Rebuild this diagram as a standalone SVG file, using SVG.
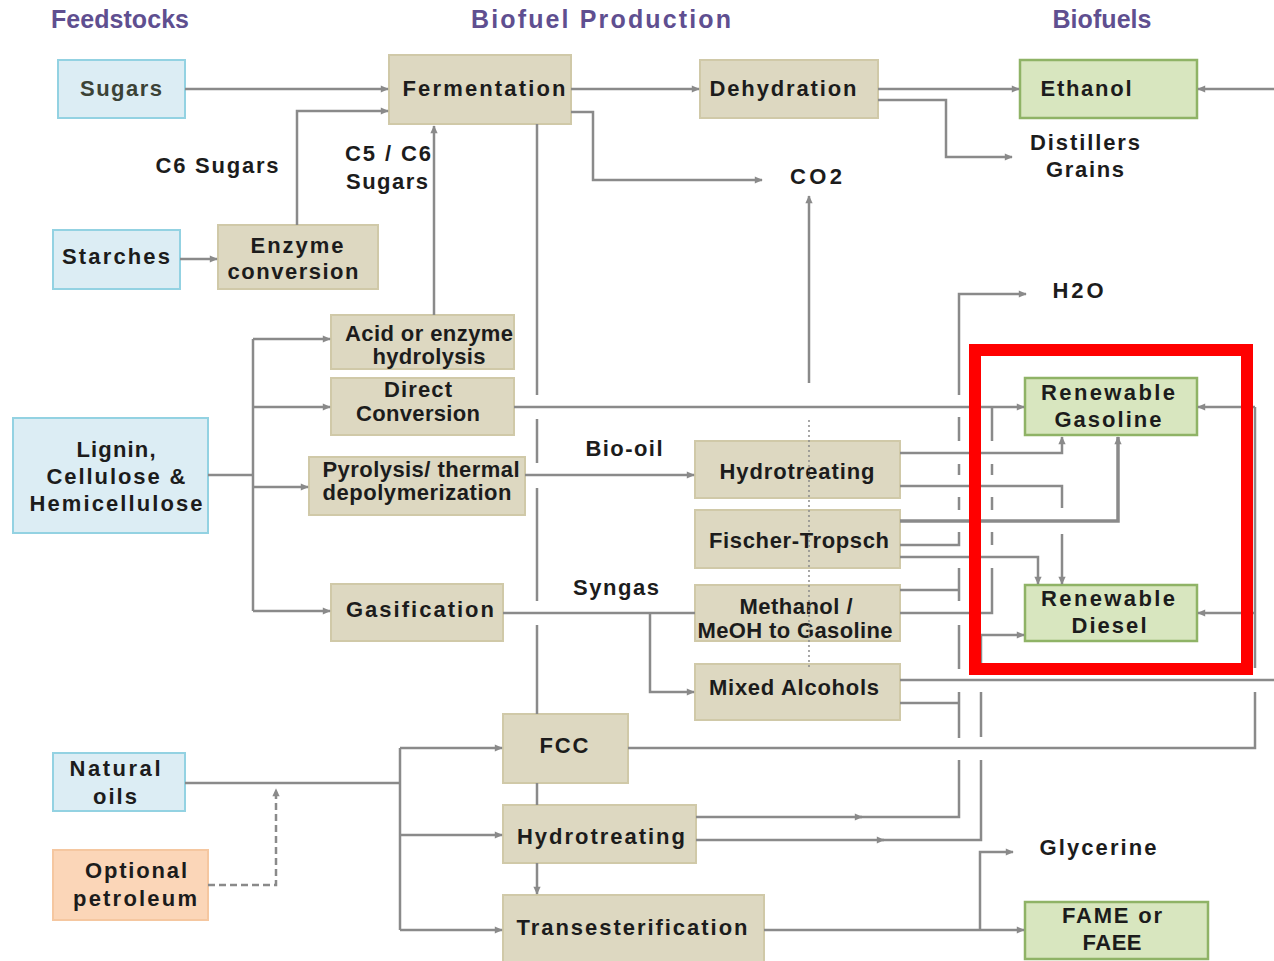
<svg xmlns="http://www.w3.org/2000/svg" width="1274" height="961" viewBox="0 0 1274 961">
<defs>
<marker id="ah" viewBox="0 0 10 10" refX="9" refY="5" markerWidth="9" markerHeight="8" markerUnits="userSpaceOnUse" orient="auto"><path d="M0,0.5 L10,5 L0,9.5 z" fill="#8a8a8a"/></marker>
</defs>
<style>
text{font-family:"Liberation Sans",Arial,sans-serif;font-weight:bold;text-anchor:middle}
.t{font-size:22px;fill:#1c1c1c}
.h{font-size:25px;fill:#5f4f90}
.c{fill:none;stroke:#8a8a8a;stroke-width:2.5}
.a{marker-end:url(#ah)}
.feed rect{fill:#dcedf4;stroke:#93d2e2;stroke-width:2}
.proc rect{fill:#ddd8c1;stroke:#d0c9a8;stroke-width:2}
.fuel rect{fill:#d8e6bf;stroke:#8fb366;stroke-width:2.5}
.opt rect{fill:#fbd6b8;stroke:#f5c7a0;stroke-width:2}
</style>
<rect width="1274" height="961" fill="#ffffff"/>

<g id="headers">
<text class="h" x="120" y="28" textLength="138">Feedstocks</text>
<text class="h" x="601" y="28" textLength="260">Biofuel Production</text>
<text class="h" x="1102" y="28" textLength="99">Biofuels</text>
</g>

<g id="labels">
<text class="t" x="217" y="173" textLength="123">C6 Sugars</text>
<text class="t" x="388" y="161" textLength="86">C5 / C6</text>
<text class="t" x="387" y="189" textLength="82">Sugars</text>
<text class="t" x="816" y="184" textLength="52">CO2</text>
<text class="t" x="1085" y="150" textLength="110">Distillers</text>
<text class="t" x="1085" y="177" textLength="78">Grains</text>
<text class="t" x="1078" y="298" textLength="51">H2O</text>
<text class="t" x="624" y="456" textLength="77">Bio-oil</text>
<text class="t" x="616" y="595" textLength="86">Syngas</text>
<text class="t" x="1098" y="855" textLength="117">Glycerine</text>
</g>

<g id="nodes">
<g id="sugars" class="feed"><rect x="58" y="60" width="127" height="58"/><text class="t" x="121" y="96" textLength="82" style="fill:#3b4236">Sugars</text></g>
<g id="starches" class="feed"><rect x="53" y="230" width="127" height="59"/><text class="t" x="116" y="264" textLength="108">Starches</text></g>
<g id="lignin" class="feed"><rect x="13" y="418" width="195" height="115"/><text class="t" x="116" y="457" textLength="79">Lignin,</text><text class="t" x="116" y="484" textLength="139">Cellulose &amp;</text><text class="t" x="116" y="511" textLength="173">Hemicellulose</text></g>
<g id="natural-oils" class="feed"><rect x="53" y="753" width="132" height="58"/><text class="t" x="115" y="776" textLength="91">Natural</text><text class="t" x="115" y="804" textLength="44">oils</text></g>
<g id="optional-petroleum" class="opt"><rect x="53" y="850" width="155" height="70"/><text class="t" x="136" y="878" textLength="102">Optional</text><text class="t" x="135" y="906" textLength="124">petroleum</text></g>

<g id="fermentation" class="proc"><rect x="389" y="55" width="182" height="69"/><text class="t" x="484" y="96" textLength="163">Fermentation</text></g>
<g id="dehydration" class="proc"><rect x="700" y="60" width="178" height="58"/><text class="t" x="783" y="96" textLength="147">Dehydration</text></g>
<g id="enzyme-conversion" class="proc"><rect x="218" y="225" width="160" height="64"/><text class="t" x="297" y="253" textLength="93">Enzyme</text><text class="t" x="293" y="279" textLength="131">conversion</text></g>
<g id="acid-hydrolysis" class="proc"><rect x="331" y="315" width="183" height="54"/><text class="t" x="429" y="341" textLength="168">Acid or enzyme</text><text class="t" x="429" y="364" textLength="113">hydrolysis</text></g>
<g id="direct-conversion" class="proc"><rect x="331" y="378" width="183" height="57"/><text class="t" x="418" y="397" textLength="68">Direct</text><text class="t" x="418" y="421" textLength="124">Conversion</text></g>
<g id="pyrolysis" class="proc"><rect x="309" y="457" width="216" height="58"/><text class="t" x="421" y="477" textLength="197">Pyrolysis/ thermal</text><text class="t" x="417" y="500" textLength="189">depolymerization</text></g>
<g id="gasification" class="proc"><rect x="331" y="584" width="172" height="57"/><text class="t" x="420" y="617" textLength="148">Gasification</text></g>
<g id="hydrotreating-1" class="proc"><rect x="695" y="441" width="205" height="57"/><text class="t" x="797" y="479" textLength="155">Hydrotreating</text></g>
<g id="fischer-tropsch" class="proc"><rect x="695" y="510" width="205" height="58"/><text class="t" x="799" y="548" textLength="180">Fischer-Tropsch</text></g>
<g id="methanol" class="proc"><rect x="695" y="585" width="205" height="56"/><text class="t" x="796" y="614" textLength="113">Methanol /</text><text class="t" x="795" y="638" textLength="195">MeOH to Gasoline</text></g>
<g id="mixed-alcohols" class="proc"><rect x="695" y="664" width="205" height="56"/><text class="t" x="794" y="695" textLength="170">Mixed Alcohols</text></g>
<g id="fcc" class="proc"><rect x="503" y="714" width="125" height="69"/><text class="t" x="564" y="753" textLength="49">FCC</text></g>
<g id="hydrotreating-2" class="proc"><rect x="503" y="805" width="193" height="58"/><text class="t" x="601" y="844" textLength="168">Hydrotreating</text></g>
<g id="transesterification" class="proc"><rect x="503" y="895" width="261" height="72"/><text class="t" x="632" y="935" textLength="231">Transesterification</text></g>

<g id="ethanol" class="fuel"><rect x="1020" y="60" width="177" height="58"/><text class="t" x="1086" y="96" textLength="91">Ethanol</text></g>
<g id="renewable-gasoline" class="fuel"><rect x="1025" y="378" width="172" height="57"/><text class="t" x="1108" y="400" textLength="134">Renewable</text><text class="t" x="1108" y="427" textLength="107">Gasoline</text></g>
<g id="renewable-diesel" class="fuel"><rect x="1025" y="585" width="172" height="56"/><text class="t" x="1108" y="606" textLength="134">Renewable</text><text class="t" x="1109" y="633" textLength="75">Diesel</text></g>
<g id="fame" class="fuel"><rect x="1025" y="902" width="183" height="57"/><text class="t" x="1112" y="923" textLength="100">FAME or</text><text class="t" x="1112" y="950" textLength="59">FAEE</text></g>
</g>

<g id="connectors">
<path class="c a" d="M185,89 H388"/>
<path class="c a" d="M297,225 V111 H388"/>
<path class="c a" d="M434,315 V126"/>
<path class="c a" d="M180,259 H217"/>
<path class="c" d="M208,475 H253 M253,339 V611"/>
<path class="c a" d="M253,339 H330"/>
<path class="c a" d="M253,407 H330"/>
<path class="c a" d="M253,487 H308"/>
<path class="c a" d="M253,611 H330"/>
<path class="c a" d="M571,89 H699"/>
<path class="c a" d="M571,112 H593 V180 H762"/>
<path class="c a" d="M878,89 H1019"/>
<path class="c a" d="M878,100 H946 V157 H1012"/>
<path class="c a" d="M1274,89 H1198"/>
<path class="c" d="M537,124 V395 M537,419 V463 M537,488 V601 M537,625 V714 M537,783 V805"/>
<path class="c a" d="M537,863 V894"/>
<path class="c a" d="M809,383 V196"/>
<path d="M809,420 V670" fill="none" stroke="#8a8a8a" stroke-width="1.5" stroke-dasharray="2,3"/>
<path class="c a" d="M514,407 H1024"/>
<path class="c a" d="M525,475 H694"/>
<path class="c" d="M503,613 H695"/>
<path class="c a" d="M650,613 V692 H694"/>
<path class="c a" d="M959,395 V294 H1026"/>
<path class="c" d="M959,417 V441 M959,464 V475 M959,497 V510 M959,532 V545 H900 M900,590 H959 M959,568 V601 M959,625 V669 M959,692 V738 M900,703 H959 M959,760 V817 H860"/>
<path class="c a" d="M696,817 H862"/>
<path class="c" d="M992,407 V441 M992,464 V475 M992,497 V510 M992,532 V545 M992,568 V613 H900"/>
<path class="c a" d="M900,453 H1062 V437"/>
<path class="c" d="M900,486 H1062 V508"/>
<path class="c a" d="M1062,534 V584"/>
<path class="c a" d="M900,521 H1118 V437" style="stroke-width:3.5"/>
<path class="c a" d="M900,557 H1038 V584"/>
<path class="c" d="M900,680 H1274"/>
<path class="c" d="M628,748 H1255 V692 M1255,668 V407"/>
<path class="c a" d="M1255,407 H1198"/>
<path class="c a" d="M1255,613 H1198"/>
<path class="c" d="M882,840 H981 V760 M981,737 V692 M981,669 V635"/>
<path class="c a" d="M696,840 H884"/>
<path class="c a" d="M981,635 H1024"/>
<path class="c" d="M185,783 H400 M400,748 V930"/>
<path class="c a" d="M400,748 H502"/>
<path class="c a" d="M400,835 H502"/>
<path class="c a" d="M400,930 H502"/>
<path class="c a" d="M208,885 H276 V789" stroke-dasharray="7,4"/>
<path class="c a" d="M764,930 H1024"/>
<path class="c a" d="M980,930 V852 H1013"/>
</g>

<rect id="highlight" x="975" y="350" width="272" height="319" fill="none" stroke="#ff0000" stroke-width="12"/>
</svg>
